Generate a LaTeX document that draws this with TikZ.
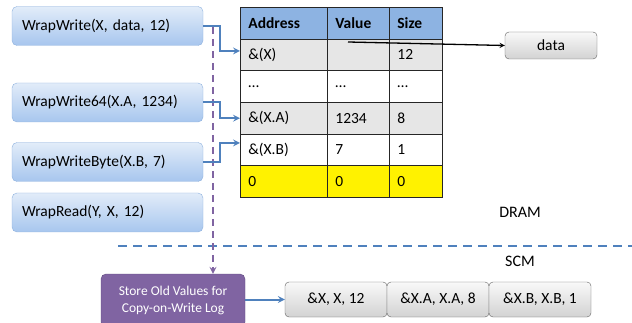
\documentclass[tikz,border=0pt]{standalone}
\usepackage{fontspec}
\setmainfont{Carlito}
\definecolor{callTop}{HTML}{E2ECF9}
\definecolor{callBot}{HTML}{A7C6EE}
\definecolor{callLine}{HTML}{8EB1DE}
\definecolor{linkBlue}{HTML}{4F81BD}
\definecolor{headBlue}{HTML}{8DB3E2}
\definecolor{rowGray}{HTML}{E6E6E6}
\definecolor{logPurple}{HTML}{8064A2}
\definecolor{logLine}{HTML}{5F4A7F}
\begin{document}
\begin{tikzpicture}[x=1pt, y=-1pt, >=stealth,
  txt/.style={font=\fontsize{15.5}{18}\selectfont},
  call/.style={txt, draw=callLine, rounded corners=5pt, top color=callTop, bottom color=callBot,
    minimum height=39pt, text width=171pt, inner xsep=10pt, align=left},
  gbox/.style={txt, draw=gray!75!black, rounded corners=4pt, top color=gray!5, bottom color=gray!35,
    minimum height=35pt, minimum width=102pt},
  cell/.style={txt, draw=black!85, line width=0.8pt, anchor=north west, minimum height=31.67pt,
    inner xsep=8pt, align=left},
  colA/.style={cell, text width=71pt},
  colV/.style={cell, text width=46pt},
  colS/.style={cell, text width=37pt},
  link/.style={->, draw=linkBlue, line width=2pt}]
  \useasboundingbox (0,0) rectangle (632,323);

  % calls
  \node[call] (w1) at (107.5, 26) {WrapWrite(X, data, 12)};
  \node[call] (w2) at (107.5, 102.5) {WrapWrite64(X.A, 1234)};
  \node[call] (w3) at (107.5, 162) {WrapWriteByte(X.B, 7)};
  \node[call] (w4) at (107.5, 212.5) {WrapRead(Y, X, 12)};

  % table in DRAM
  \node[colA, fill=headBlue] (hA) at (240, 7) {\textbf{Address}};
  \node[colV, fill=headBlue] (hV) at (327, 7) {\textbf{Value}};
  \node[colS, fill=headBlue] (hS) at (389, 7) {\textbf{Size}};
  \node[colA, fill=rowGray] (a1) at (240, 38.67) {\&(X)};
  \node[colV, fill=rowGray] (v1) at (327, 38.67) {};
  \node[colS, fill=rowGray] (s1) at (389, 38.67) {12};
  \node[colA] (a2) at (240, 70.33) {…};
  \node[colV] (v2) at (327, 70.33) {…};
  \node[colS] (s2) at (389, 70.33) {…};
  \node[colA, fill=rowGray] (a3) at (240, 102) {\&(X.A)};
  \node[colV, fill=rowGray] (v3) at (327, 102) {1234};
  \node[colS, fill=rowGray] (s3) at (389, 102) {8};
  \node[colA] (a4) at (240, 133.67) {\&(X.B)};
  \node[colV] (v4) at (327, 133.67) {7};
  \node[colS] (s4) at (389, 133.67) {1};
  \node[colA, fill=yellow] (a5) at (240, 165.33) {0};
  \node[colV, fill=yellow] (v5) at (327, 165.33) {0};
  \node[colS, fill=yellow] (s5) at (389, 165.33) {0};

  \node[gbox, minimum width=92pt, minimum height=27pt] (data) at (551, 45.5) {data};
  \coordinate (ptr) at (348, 42);
  \draw[->, line width=1.3pt] (ptr) -- (data.west);

  % DRAM / SCM
  \node[font=\fontsize{16}{19}\selectfont] (dram) at (520, 212) {DRAM};
  \node[font=\fontsize{16}{19}\selectfont] (scm) at (520, 261) {SCM};
  \coordinate (sepL) at (118, 246);
  \coordinate (sepR) at (632, 246);
  \draw[linkBlue, line width=2.5pt, dash pattern=on 9pt off 6pt] (sepL) -- (sepR);

  % copy-on-write log
  \node[draw=logLine, fill=logPurple, rounded corners=5pt, text=white, align=center,
    minimum width=144pt, minimum height=53pt, font=\fontsize{13.5}{17}\selectfont]
    (store) at (173, 300.5) {Store Old Values for\\Copy-on-Write Log};
  \coordinate (tap) at (213, 27);
  \draw[->, logPurple, line width=2pt, dash pattern=on 7pt off 5pt] (tap) -- (tap |- store.north);

  \node[gbox] (l1) at (336, 299.5) {\&X, X, 12};
  \node[gbox] (l2) at (438, 299.5) {\&X.A, X.A, 8};
  \node[gbox] (l3) at (540, 299.5) {\&X.B, X.B, 1};
  \draw[link] (store.east |- l1.west) -- (l1.west);

  % writes into the table
  \draw[link] (w1.east) -- ++(17,0) |- ([yshift=4pt]a1.west);
  \draw[link] (w2.east) -- ++(17,0) |- (a3.west);
  \draw[link] (w3.east) -- ++(17,0) |- ([yshift=7pt]a4.west);
\end{tikzpicture}
\end{document}
